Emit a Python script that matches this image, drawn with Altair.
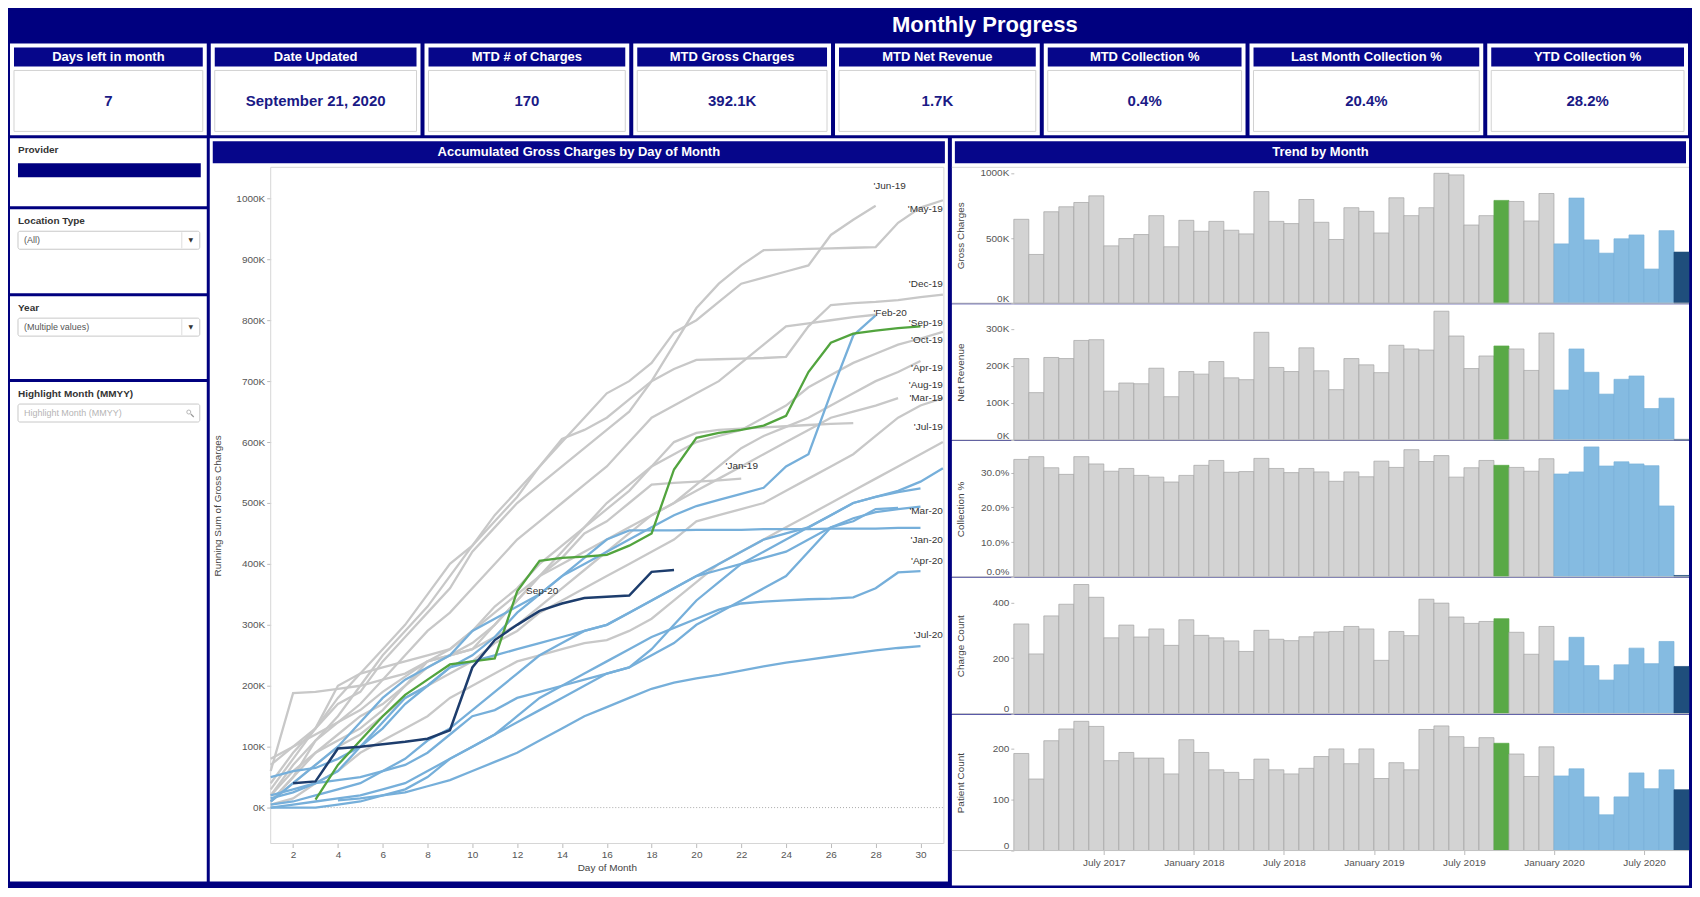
import altair as alt
import pandas as pd

FONT = "Liberation Sans"
NAVY = "#00007f"
HEAD = "#06068a"
TXT = "#555555"

# ---------------- KPI cards ----------------
kpi_titles = ["Days left in month", "Date Updated", "MTD # of Charges", "MTD Gross Charges",
              "MTD Net Revenue", "MTD Collection %", "Last Month Collection %", "YTD Collection %"]
kpi_values = ["7", "September 21, 2020", "170", "392.1K", "1.7K", "0.4%", "20.4%", "28.2%"]

# ---------------- Trend by month (Jan 2017 .. Sep 2020) ----------------
gross_charges_k = [644, 374, 702, 740, 773, 824, 440, 496, 527, 672,
                   433, 636, 552, 628, 560, 532, 857, 628, 611, 796,
                   621, 489, 733, 705, 539, 809, 672, 733, 997, 985,
                   600, 672, 789, 781, 631, 842, 455, 807, 486, 384,
                   494, 524, 262, 557, 392]
net_revenue_k = [220, 128, 223, 220, 269, 271, 132, 154, 152, 194,
                 117, 185, 178, 212, 168, 163, 291, 196, 185, 249,
                 187, 136, 220, 203, 182, 256, 246, 243, 348, 281,
                 193, 227, 254, 246, 188, 289, 135, 246, 183, 124,
                 164, 173, 85, 113, 1.7]
collection_pct = [33.8, 34.6, 31.4, 29.5, 34.6, 32.5, 30.4, 31.2, 29.2, 28.7,
                  27.3, 29.2, 32.1, 33.5, 30.1, 30.3, 34.1, 31.2, 30.0, 31.2,
                  30.2, 27.5, 30.2, 28.8, 33.3, 31.5, 36.6, 33.2, 34.9, 28.7,
                  31.4, 33.5, 32.1, 31.5, 30.4, 34.0, 29.6, 30.2, 37.4, 31.9,
                  33.1, 32.5, 32.0, 20.4, 0.4]
charge_count = [323, 215, 352, 394, 465, 419, 273, 319, 276, 305,
                246, 338, 282, 273, 262, 224, 300, 268, 263, 277,
                294, 296, 314, 305, 192, 296, 281, 412, 398, 348,
                325, 332, 342, 293, 214, 314, 190, 275, 173, 121,
                176, 236, 180, 260, 170]
patient_count = [190, 140, 215, 238, 253, 243, 176, 192, 181, 181,
                 150, 217, 192, 158, 153, 139, 179, 158, 150, 161,
                 184, 199, 170, 199, 141, 172, 158, 237, 244, 223,
                 202, 221, 210, 189, 145, 203, 146, 160, 105, 70,
                 105, 152, 121, 158, 119]
axis_month_labels = ["July 2017", "January 2018", "July 2018", "January 2019",
                     "July 2019", "January 2020", "July 2020"]
highlight_month = "2019-09"
current_month = "2020-09"

# ---------------- Accumulated gross charges (K) by day of month ----------------
jan19 = [20, 60, 90, 120, 150, 170, 200, 230, 250, 270, 300, 340, 380, 410, 450, 470, 500, 530, 533, 535, 537, 540]
feb19 = [20, 70, 110, 140, 170, 210, 250, 290, 320, 360, 400, 440, 470, 500, 530, 560, 600, 640, 660, 680,
         700, 730, 760, 790, 795, 800, 805, 809]
mar19 = [10, 40, 70, 100, 120, 150, 180, 200, 220, 240, 270, 290, 320, 340, 360, 380, 400, 420, 440, 470,
         480, 490, 500, 520, 540, 560, 580, 610, 640, 660, 672]
apr19 = [80, 100, 120, 140, 160, 190, 215, 240, 260, 290, 320, 350, 380, 400, 420, 440, 460, 480, 500, 530,
         560, 590, 610, 625, 640, 660, 680, 700, 715, 733]
may19 = [40, 90, 130, 170, 190, 240, 280, 320, 360, 420, 460, 500, 530, 560, 590, 620, 650, 700, 760, 820,
         860, 890, 915, 916, 917, 918, 919, 920, 960, 985, 997]
jun19 = [10, 50, 110, 150, 200, 250, 290, 330, 380, 430, 480, 520, 560, 600, 640, 680, 700, 730, 780, 800,
         830, 860, 870, 880, 890, 940, 965, 988]
jul19 = [5, 15, 40, 60, 90, 110, 130, 150, 180, 200, 220, 240, 250, 260, 270, 275, 290, 310, 340, 370,
         400, 420, 440, 460, 480, 500, 520, 540, 560, 580, 600]
aug19 = [60, 188, 190, 195, 200, 210, 220, 240, 250, 260, 280, 300, 330, 360, 390, 420, 450, 480, 500, 520,
         540, 560, 580, 600, 620, 640, 650, 660, 672]
sep19 = [13, 70, 110, 150, 185, 210, 235, 240, 245, 355, 405, 410, 412, 415, 430, 450, 555, 607, 615, 620,
         627, 643, 715, 763, 778, 783, 787, 790]
oct19 = [70, 100, 130, 200, 220, 230, 240, 250, 260, 290, 330, 360, 400, 430, 460, 490, 520, 560, 580, 600,
         610, 620, 640, 660, 690, 710, 730, 745, 760, 770, 781]
nov19 = [10, 50, 90, 110, 130, 160, 200, 240, 250, 260, 300, 340, 380, 420, 460, 500, 530, 560, 600, 615,
         620, 622, 624, 626, 628, 630, 631]
dec19 = [30, 80, 130, 180, 220, 260, 300, 350, 400, 430, 470, 510, 560, 605, 620, 640, 670, 700, 720, 735,
         736, 737, 738, 740, 790, 825, 828, 830, 833, 838, 842]
jan20 = [10, 40, 70, 100, 140, 180, 210, 230, 250, 290, 310, 330, 350, 380, 410, 440, 455, 455, 455, 456,
         456, 456, 457, 457, 457, 458, 458, 458, 459, 459]
feb20 = [15, 25, 40, 60, 100, 140, 180, 200, 230, 250, 280, 320, 350, 380, 400, 420, 440, 460, 480, 495,
         505, 515, 525, 560, 580, 680, 775, 808]
mar20 = [50, 60, 65, 80, 100, 130, 170, 200, 230, 240, 250, 260, 270, 280, 290, 300, 320, 340, 360, 380,
         390, 400, 410, 420, 440, 460, 470, 490, 492]
apr20 = [0, 5, 10, 15, 20, 30, 40, 60, 80, 100, 120, 150, 180, 200, 220, 240, 260, 280, 295, 310,
         325, 335, 338, 340, 342, 343, 345, 360, 386, 388]
may20 = [0, 0, 0, 5, 10, 20, 30, 50, 80, 100, 120, 140, 160, 180, 200, 220, 230, 250, 270, 300,
         320, 340, 360, 380, 420, 460, 475, 485, 490, 494]
jun20 = [20, 30, 40, 45, 50, 60, 70, 90, 120, 150, 160, 180, 190, 200, 210, 220, 230, 260, 300, 340,
         370, 400, 420, 440, 460, 480, 500, 510, 518, 524]
jul20 = [12, 15, 20, 25, 35, 45, 60, 75, 90, 110, 130, 150, 165, 180, 195, 205, 212, 218, 225, 232,
         238, 243, 248, 253, 258, 262, 265]
aug20 = [5, 10, 20, 30, 40, 60, 80, 110, 130, 160, 190, 220, 250, 270, 290, 300, 320, 340, 360, 380,
         400, 420, 440, 450, 460, 480, 500, 510, 520, 535, 557]
sep20 = [40, 43, 97, 100, 104, 108, 113, 127, 230, 275, 300, 323, 335, 344, 346, 348, 387, 390]

# (series name, first day, values, style group)
series_table = [
    ("Jan-19", 1, jan19, "gray"), ("Feb-19", 1, feb19, "gray"), ("Mar-19", 1, mar19, "gray"),
    ("Apr-19", 1, apr19, "gray"), ("May-19", 1, may19, "gray"), ("Jun-19", 1, jun19, "gray"),
    ("Jul-19", 1, jul19, "gray"), ("Aug-19", 1, aug19, "gray"), ("Oct-19", 1, oct19, "gray"),
    ("Nov-19", 1, nov19, "gray"), ("Dec-19", 1, dec19, "gray"),
    ("Jan-20", 1, jan20, "blue"), ("Feb-20", 1, feb20, "blue"), ("Mar-20", 1, mar20, "blue"),
    ("Apr-20", 1, apr20, "blue"), ("May-20", 1, may20, "blue"), ("Jun-20", 1, jun20, "blue"),
    ("Jul-20", 4, jul20, "blue"), ("Aug-20", 1, aug20, "blue"),
    ("Sep-19", 3, sep19, "green"), ("Sep-20", 2, sep20, "navy"),
]

label_text = ["'Jun-19", "'May-19", "'Dec-19", "'Feb-20", "'Sep-19", "'Oct-19", "'Apr-19", "'Aug-19",
              "'Mar-19", "'Jul-19", "'Jan-19", "'Mar-20", "'Jan-20", "'Apr-20", "'Jul-20", "Sep-20"]
label_day = [27.9, 31, 31, 27.9, 31, 31, 31, 31, 31, 31, 21.3, 31, 31, 31, 31, 12.4]
label_value_k = [1020, 983, 860, 812, 795, 767, 721, 694, 672, 625, 560, 487, 440, 405, 283, 356]

# ---------------- tables ----------------
rows = []
for name, start, vals, kind in series_table:
    for i, v in enumerate(vals):
        rows.append({"series": name, "day": start + i, "value": v * 1000, "kind": kind})
line_df = pd.DataFrame(rows)
lab_df = pd.DataFrame({"text": label_text, "day": label_day, "value": [v * 1000 for v in label_value_k]})

months = pd.date_range("2017-01-01", periods=len(gross_charges_k), freq="MS")


def month_kind(d):
    s = d.strftime("%Y-%m")
    if s == highlight_month:
        return "hl"
    if s == current_month:
        return "cur"
    if d.year == 2020:
        return "y2020"
    return "hist"


trend_df = pd.DataFrame({
    "i": list(range(len(months))),
    "i2": [i + 1 for i in range(len(months))],
    "base": [0] * len(months),
    "kind": [month_kind(d) for d in months],
    "gross": [v * 1000 for v in gross_charges_k],
    "net": [v * 1000 for v in net_revenue_k],
    "coll": [v / 100 for v in collection_pct],
    "charges": charge_count,
    "patients": patient_count,
})

one = pd.DataFrame({"k": [0]})
WHITE_VIEW = alt.ViewBackground(fill="white", strokeWidth=0)


def rect(x, x2, y, y2, **kw):
    return alt.Chart(one).mark_rect(**kw).encode(
        x=alt.value(x), x2=alt.value(x2), y=alt.value(y), y2=alt.value(y2))


def rule(x, x2, y, y2, **kw):
    return alt.Chart(one).mark_rule(**kw).encode(
        x=alt.value(x), x2=alt.value(x2), y=alt.value(y), y2=alt.value(y2))


def txt(x, y, s, **kw):
    base = dict(font=FONT, fontSize=10, color="#333333", baseline="middle")
    base.update(kw)
    return alt.Chart(one).mark_text(text=s, **base).encode(x=alt.value(x), y=alt.value(y))


# ---------------- title ----------------
title_panel = alt.layer(
    txt(976, 15, "Monthly Progress", fontSize=22, fontWeight="bold", color="white"),
).properties(width=1680, height=30, view=alt.ViewBackground(fill=NAVY, strokeWidth=0))

# ---------------- KPI row ----------------
kpi_widths = [197, 210, 205, 198, 205, 202, 234, 201]
cards = []
for t, v, w in zip(kpi_titles, kpi_values, kpi_widths):
    cards.append(alt.layer(
        rect(4, w - 4, 4, 23, color=HEAD),
        txt(w / 2, 14, t, color="white", fontWeight="bold", fontSize=13),
        rect(4, w - 4, 27, 88, fill="transparent", stroke="#d2d2d2", strokeWidth=1),
        txt(w / 2, 58, v, color="#1a1a86", fontWeight="bold", fontSize=15),
    ).properties(width=w, height=92, view=WHITE_VIEW))
kpi_row = alt.hconcat(*cards, spacing=4)

# ---------------- filter panel ----------------
FW = 197


def dropdown(text):
    return [rect(8, FW - 7, 22, 40, fill="white", stroke="#c8c8c8", cornerRadius=2),
            txt(14, 31, text, align="left", fontSize=9, color="#555555"),
            rule(FW - 25, FW - 25, 23, 39, color="#dddddd"),
            txt(FW - 16, 31, "▼", fontSize=6, color="#333333", font="DejaVu Sans")]


box1 = alt.layer(
    txt(8, 12, "Provider", align="left", fontWeight="bold"),
    rect(8, FW - 6, 25, 39, color=NAVY),
).properties(width=FW, height=68, view=WHITE_VIEW)
box2 = alt.layer(
    txt(8, 12, "Location Type", align="left", fontWeight="bold"), *dropdown("(All)")
).properties(width=FW, height=84, view=WHITE_VIEW)
box3 = alt.layer(
    txt(8, 12, "Year", align="left", fontWeight="bold"), *dropdown("(Multiple values)")
).properties(width=FW, height=83, view=WHITE_VIEW)
box4 = alt.layer(
    txt(8, 12, "Highlight Month (MMYY)", align="left", fontWeight="bold"),
    rect(8, FW - 7, 22, 40, fill="white", stroke="#c8c8c8", cornerRadius=2),
    txt(14, 31, "Highlight Month (MMYY)", align="left", fontSize=9, color="#b5b5b5"),
    alt.Chart(one).mark_point(shape="circle", size=16, color="#999999", strokeWidth=1).encode(
        x=alt.value(FW - 18), y=alt.value(30)),
    rule(FW - 16, FW - 13, 32, 35, color="#999999", strokeWidth=1.2),
).properties(width=FW, height=500, view=WHITE_VIEW)
filters = alt.vconcat(box1, box2, box3, box4, spacing=3)

# ---------------- accumulated line chart ----------------
LW, LH = 739, 744
LX = [61, 734]
LY = [706, 29]
Y_LO, Y_HI = -59000, 1051000


def y_px(v):
    return LY[0] - (v - Y_LO) / (Y_HI - Y_LO) * (LY[0] - LY[1])


x_ax = alt.Axis(orient="bottom", offset=-(LH - LY[0]), values=list(range(2, 31, 2)), title="Day of Month",
                domain=False, grid=False, tickSize=4, tickColor="#bbbbbb", labelPadding=2,
                labelFontSize=10, labelColor=TXT, titleFontSize=10, titleColor="#444444",
                titleFontWeight="normal", titlePadding=3)
y_ax = alt.Axis(orient="left", offset=-LX[0], values=[i * 100000 for i in range(11)],
                labelExpr="datum.value/1000 + 'K'", title="Running Sum of Gross Charges", titleX=-48,
                domain=False, grid=False, tickSize=4, tickColor="#bbbbbb", labelPadding=2,
                labelFontSize=10, labelColor=TXT, titleFontSize=10, titleColor="#444444",
                titleFontWeight="normal")
LXS = alt.X("day:Q", scale=alt.Scale(domain=[1, 31], range=LX, nice=False, zero=False), axis=x_ax)
LYS = alt.Y("value:Q", scale=alt.Scale(domain=[Y_LO, Y_HI], range=LY, nice=False, zero=False), axis=y_ax)


def line_layer(kind, color, width):
    return alt.Chart(line_df).transform_filter(f"datum.kind == '{kind}'").mark_line(
        color=color, strokeWidth=width).encode(x=LXS, y=LYS, detail="series:N", order="day:Q")


def label_layer(cond, align):
    return alt.Chart(lab_df).transform_filter(cond).mark_text(
        align=align, baseline="middle", font=FONT, fontSize=10, color="#333333").encode(
        x=LXS, y=LYS, text="text:N")


line_panel = alt.layer(
    rect(3, LW - 3, 3, 25, color=HEAD),
    txt(LW / 2, 14, "Accumulated Gross Charges by Day of Month", color="white", fontWeight="bold", fontSize=13),
    rect(LX[0], LX[1] + 1, LY[1], LY[0], fill="transparent", stroke="#d6d6d6", strokeWidth=1),
    rule(LX[0], LX[1], y_px(0), y_px(0), color="#aaaaaa", strokeDash=[1, 2]),
    line_layer("gray", "#c8c8c8", 2.3),
    line_layer("blue", "#76afda", 2.3),
    line_layer("green", "#52a43e", 2.3),
    line_layer("navy", "#1d3d6d", 2.5),
    label_layer("datum.day < 30", "left"),
    label_layer("datum.day >= 30", "right"),
).properties(width=LW, height=LH, view=WHITE_VIEW)

# ---------------- trend by month ----------------
TW = 738
XR = [62, 738]
KINDS = ["hist", "hl", "y2020", "cur"]
FILLS = ["#d3d3d3", "#59a946", "#85bbe1", "#1f4e7c"]
STROKES = ["#a3a3a3", "#59a946", "#7bb2da", "#1f4e7c"]
month_expr = "[" + ",".join(f"'{s}'" for s in axis_month_labels) + "][datum.value/6-1]"


def trend_row(field, title, h, y_range, top, ticks, label_expr=None, fmt=None, header=False, xaxis=False):
    extra = {}
    if label_expr:
        extra["labelExpr"] = label_expr
    if fmt:
        extra["format"] = fmt
    y_axis = alt.Axis(orient="left", offset=-XR[0], values=ticks, title=title, titleX=-48,
                      domain=False, grid=False, tickSize=3, tickColor="#bbbbbb", labelPadding=2,
                      labelFlush=True, labelFontSize=10, labelColor=TXT, titleFontSize=10,
                      titleColor="#444444", titleFontWeight="normal", **extra)
    x_axis = None
    if xaxis:
        x_axis = alt.Axis(orient="bottom", offset=-(h - y_range[0]), values=[6, 12, 18, 24, 30, 36, 42],
                          labelExpr=month_expr, title=None, domain=False, grid=False, tickSize=4,
                          tickColor="#bbbbbb", labelPadding=3, labelFontSize=10, labelColor=TXT)
    bars = alt.Chart(trend_df).mark_rect(strokeWidth=0.7).encode(
        x=alt.X("i:Q", scale=alt.Scale(domain=[0, len(months)], range=XR, nice=False, zero=False), axis=x_axis),
        x2="i2:Q",
        y=alt.Y(f"{field}:Q", scale=alt.Scale(domain=[0, top], range=y_range, nice=False), axis=y_axis),
        y2="base:Q",
        color=alt.Color("kind:N", scale=alt.Scale(domain=KINDS, range=FILLS), legend=None),
        stroke=alt.Stroke("kind:N", scale=alt.Scale(domain=KINDS, range=STROKES), legend=None),
    )
    layers = []
    if header:
        layers += [rect(3, TW - 3, 3, 25, color=HEAD),
                   txt(TW / 2, 14, "Trend by Month", color="white", fontWeight="bold", fontSize=13),
                   rule(0, TW, y_range[1], y_range[1], color="#d8d8d8")]
    layers += [bars, rule(0, TW, y_range[0], y_range[0], color="#c4c4c4")]
    return alt.layer(*layers).properties(width=TW, height=h, view=WHITE_VIEW)


r1 = trend_row("gross", "Gross Charges", 165, [165, 29], 1043000, [0, 500000, 1000000],
               label_expr="datum.value/1000 + 'K'", header=True)
r2 = trend_row("net", "Net Revenue", 136, [136, 0], 367000, [0, 100000, 200000, 300000],
               label_expr="datum.value/1000 + 'K'")
r3 = trend_row("coll", "Collection %", 136, [136, 0], 0.391, [0, 0.1, 0.2, 0.3], fmt=".1%")
r4 = trend_row("charges", "Charge Count", 136, [136, 0], 489, [0, 200, 400])
r5 = trend_row("patients", "Patient Count", 171, [136, 0], 266, [0, 100, 200], xaxis=True)
trend = alt.vconcat(r1, r2, r3, r4, r5, spacing=0)

main = alt.hconcat(filters, line_panel, trend, spacing=3)

chart = alt.vconcat(title_panel, kpi_row, main, spacing=3).properties(
    background=NAVY, padding=2
).configure_view(strokeWidth=0).configure_axis(labelFont=FONT, titleFont=FONT)

chart.save("out.html", embed_options={"renderer": "svg", "actions": False})
